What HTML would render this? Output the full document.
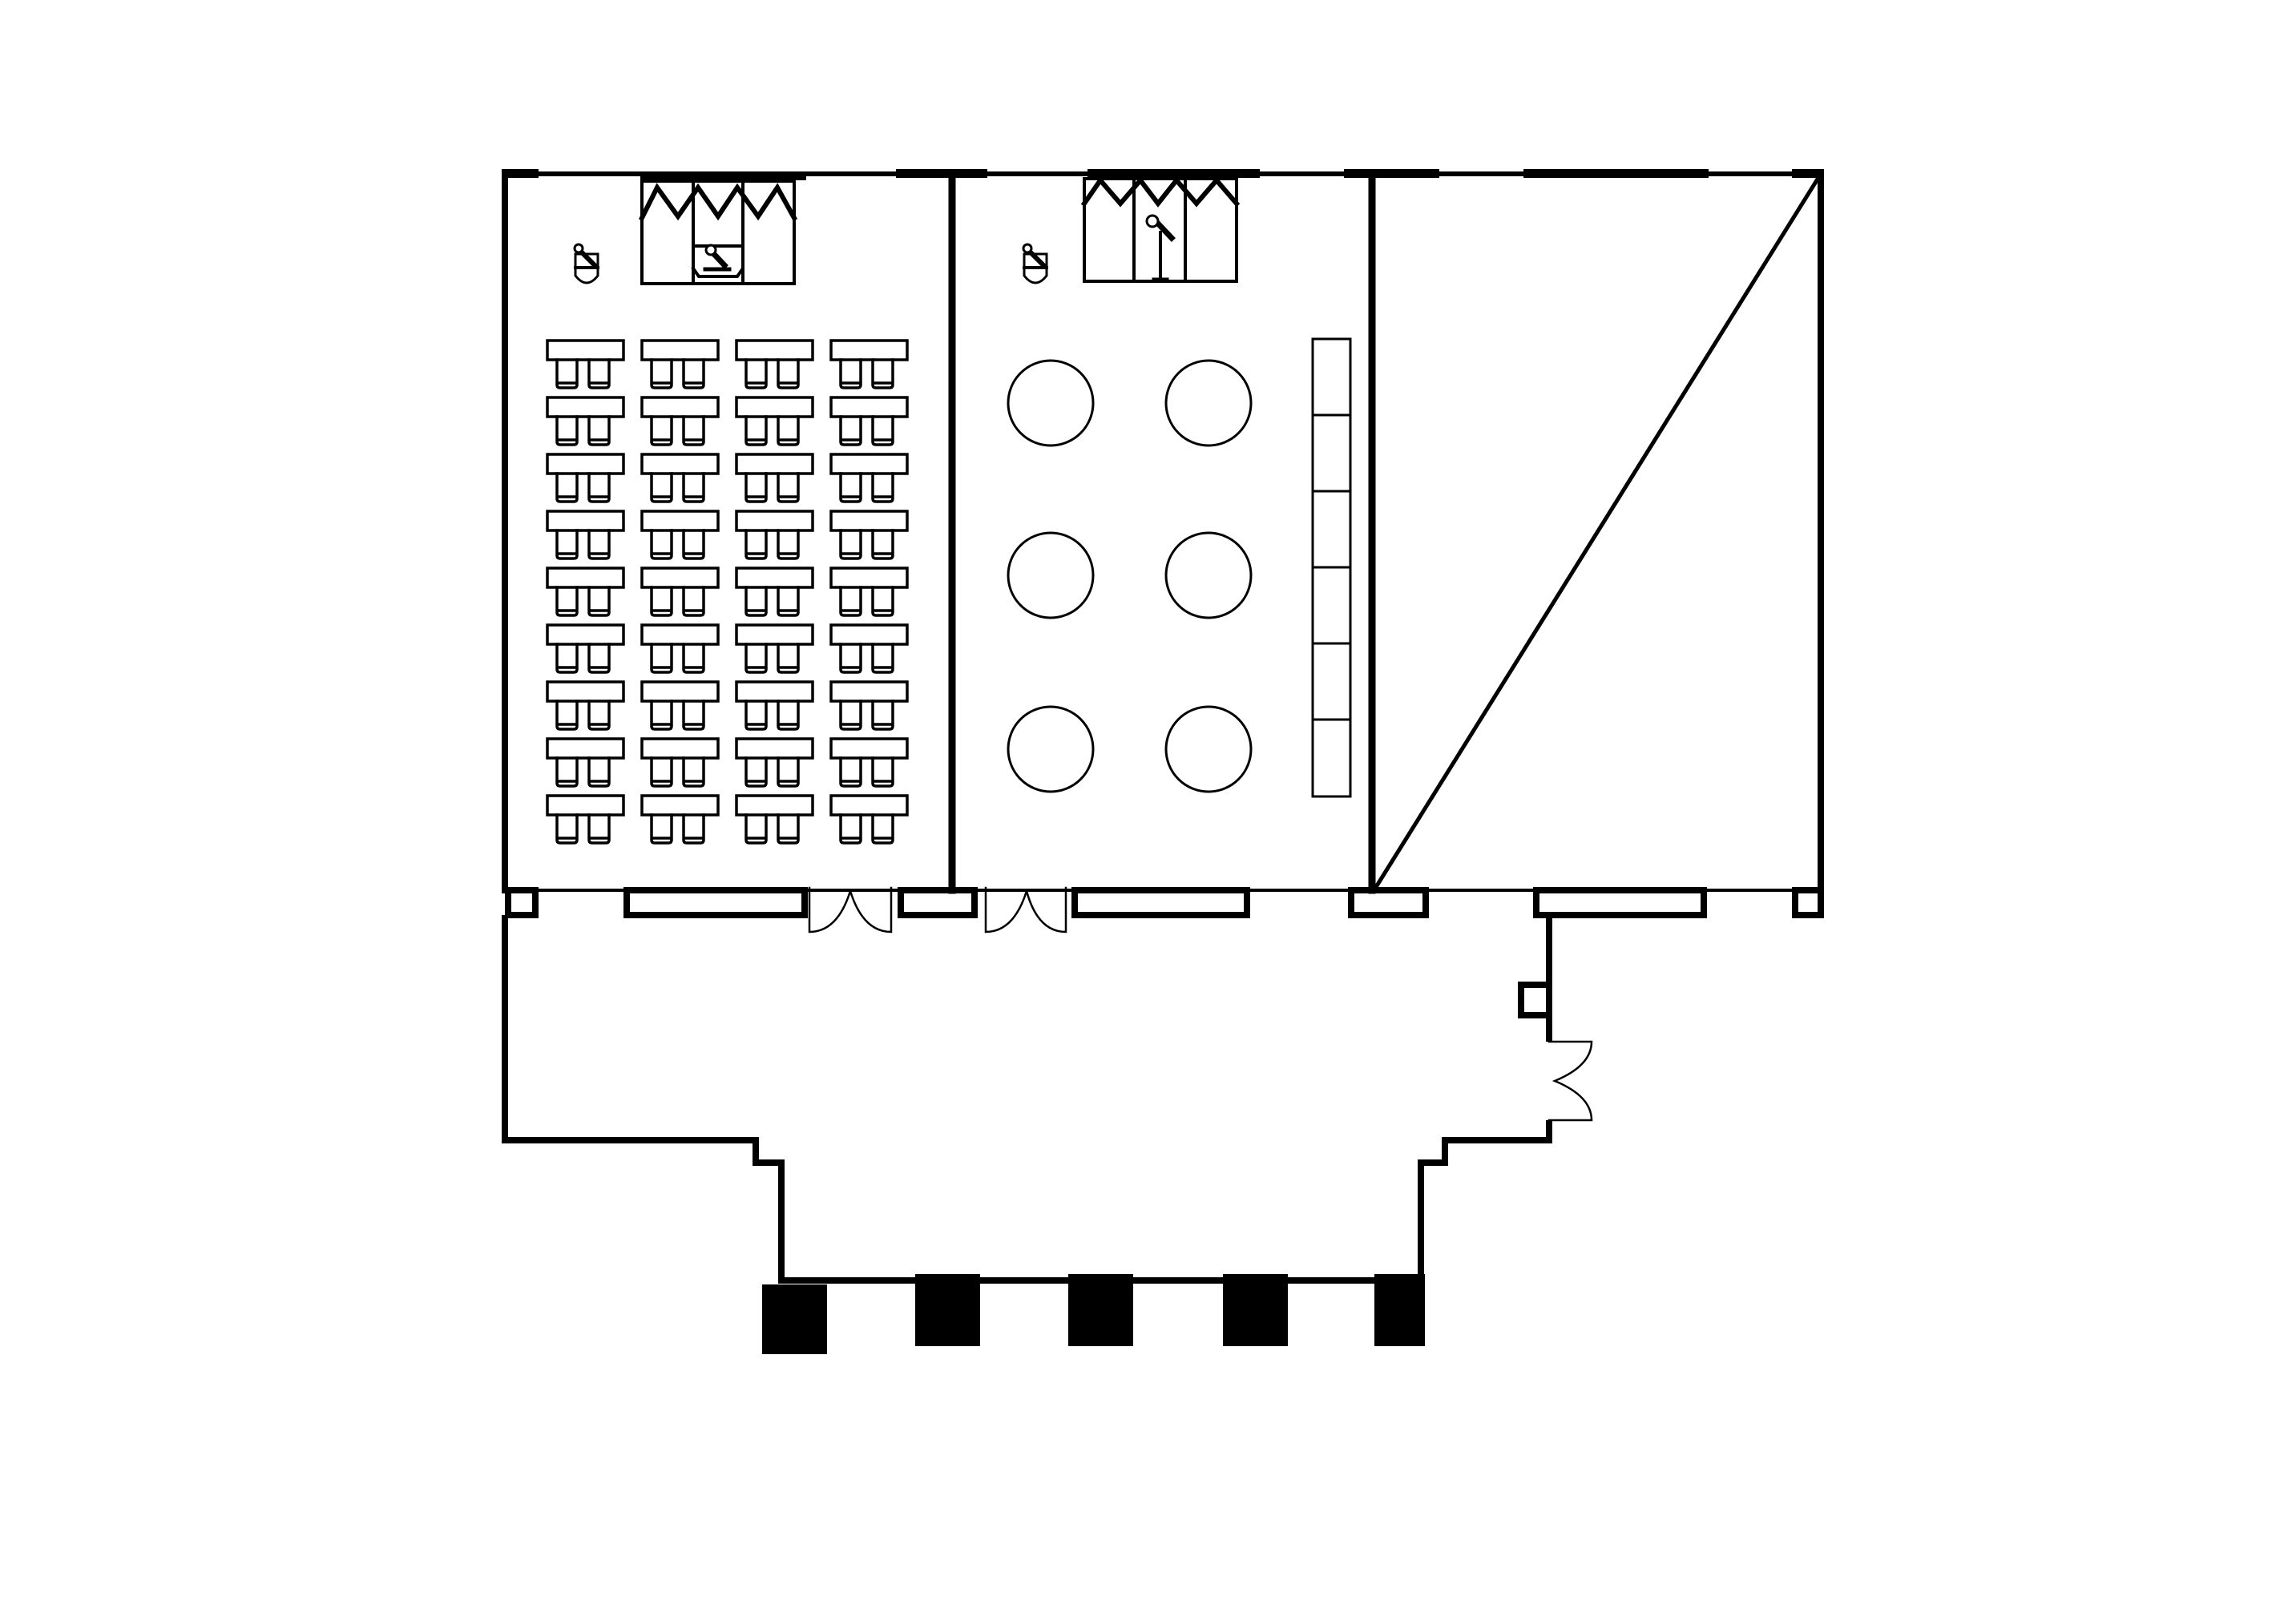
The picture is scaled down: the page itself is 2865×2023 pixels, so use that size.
<!DOCTYPE html>
<html><head><meta charset="utf-8"><style>html,body{margin:0;padding:0;background:#fff}svg{display:block}</style></head>
<body>
<svg width="2865" height="2023" viewBox="0 0 2865 2023" xmlns="http://www.w3.org/2000/svg">
<rect width="2865" height="2023" fill="#fff"/>
<g stroke="#000" fill="none" stroke-linecap="square">
<!-- top wall -->
<line x1="630" y1="217" x2="2272" y2="217" stroke-width="6"/>
<g fill="#000" stroke="none">
<rect x="626" y="211" width="46" height="11"/>
<rect x="799" y="216" width="207" height="9"/>
<rect x="1118" y="211" width="114" height="11"/>
<rect x="1357" y="211" width="215" height="11"/>
<rect x="1677" y="211" width="119" height="11"/>
<rect x="1901" y="211" width="231" height="11"/>
<rect x="2236" y="211" width="40" height="11"/>
</g>
<!-- verticals -->
<line x1="630" y1="217" x2="630" y2="1111" stroke-width="8"/>
<line x1="2272" y1="217" x2="2272" y2="1111" stroke-width="8"/>
<line x1="1188" y1="217" x2="1188" y2="1111" stroke-width="9"/>
<line x1="1712" y1="217" x2="1712" y2="1111" stroke-width="9"/>
<!-- diagonal -->
<line x1="2272" y1="217" x2="1717" y2="1107" stroke-width="5"/>
<!-- room bottom line -->
<line x1="630" y1="1111" x2="2272" y2="1111" stroke-width="4"/>
<!-- window boxes -->
<g stroke-width="8">
<rect x="634" y="1111" width="34" height="31"/>
<rect x="782" y="1111" width="222" height="31"/>
<rect x="1124" y="1111" width="92" height="31"/>
<rect x="1341" y="1111" width="215" height="31"/>
<rect x="1686" y="1111" width="93" height="31"/>
<rect x="1917" y="1111" width="209" height="31"/>
<rect x="2240" y="1111" width="32" height="31"/>
</g>
<!-- doors -->
<g stroke-width="2.5">
<path d="M1010 1108 V1163 Q1045 1163 1061 1112 M1112 1108 V1163 Q1077 1163 1061 1112"/>
<path d="M1230 1108 V1163 Q1265 1163 1281 1112 M1330 1108 V1163 Q1295 1163 1281 1112"/>
<path d="M1933 1300 H1986 Q1986 1330 1940 1349 Q1986 1368 1986 1398 H1933" />
</g>
<!-- lobby walls -->
<g stroke-width="8" stroke-linecap="butt">
<path d="M630 1142 V1423 H943 V1451 H975 V1598 H1773 V1451 H1803 V1423 H1933 V1398"/>
<path d="M1933 1300 V1269 M1933 1227 V1142"/>
<rect x="1898" y="1229" width="35" height="38"/>
</g>
<g fill="#000" stroke="none">
<rect x="951" y="1603" width="81" height="87"/>
<rect x="1142" y="1590" width="81" height="90"/>
<rect x="1333" y="1590" width="81" height="90"/>
<rect x="1526" y="1590" width="81" height="90"/>
<rect x="1715" y="1590" width="63" height="90"/>
</g>
<!-- stage 1 -->
<g stroke-width="4">
<rect x="801" y="226" width="190" height="128"/>
<line x1="865" y1="226" x2="865" y2="354"/>
<line x1="927" y1="226" x2="927" y2="354"/>
<polyline points="801,272 820,234 846,270 871,234 896,270 920,234 946,270 970,234 991,272" stroke-width="6" stroke-linejoin="miter"/>
<path d="M865 307 H927 V335 L920 345 H872 L865 335"/>
<line x1="888" y1="314" x2="904" y2="331" stroke-width="7"/>
<circle cx="887" cy="312" r="6" fill="#fff" stroke-width="3"/>
<line x1="880" y1="336" x2="910" y2="336" stroke-width="5"/>
</g>
<!-- stage 2 -->
<g stroke-width="4">
<rect x="1353" y="223" width="190" height="128"/>
<line x1="1415" y1="223" x2="1415" y2="351"/>
<line x1="1479" y1="223" x2="1479" y2="351"/>
<polyline points="1353,254 1373,225 1398,254 1423,225 1445,254 1468,225 1493,254 1518,225 1543,254" stroke-width="6"/>
<line x1="1448" y1="290" x2="1448" y2="350"/>
<line x1="1440" y1="349" x2="1456" y2="349" stroke-width="5"/>
<line x1="1446" y1="280" x2="1462" y2="297" stroke-width="7"/>
<circle cx="1438" cy="276" r="7" fill="#fff" stroke-width="3"/>
</g>
<!-- mic icons -->
<g stroke-width="3">
<path d="M718 317 H746 V344 Q732 362 718 344 Z" fill="#fff"/>
<line x1="718" y1="334" x2="746" y2="334" stroke-width="4"/>
<line x1="723" y1="312" x2="742" y2="331" stroke-width="6"/>
<circle cx="722" cy="310" r="5" fill="#fff"/>
<path d="M1278 317 H1306 V344 Q1292 362 1278 344 Z" fill="#fff"/>
<line x1="1278" y1="334" x2="1306" y2="334" stroke-width="4"/>
<line x1="1283" y1="312" x2="1302" y2="331" stroke-width="6"/>
<circle cx="1282" cy="310" r="5" fill="#fff"/>
</g>
<!-- round tables -->
<g stroke-width="3">
<circle cx="1311" cy="503" r="53"/><circle cx="1508" cy="503" r="53"/>
<circle cx="1311" cy="718" r="53"/><circle cx="1508" cy="718" r="53"/>
<circle cx="1311" cy="935" r="53"/><circle cx="1508" cy="935" r="53"/>
</g>
<!-- buffet -->
<g stroke-width="3">
<rect x="1638" y="423" width="47" height="571"/>
<line x1="1638" y1="518" x2="1685" y2="518"/>
<line x1="1638" y1="613" x2="1685" y2="613"/>
<line x1="1638" y1="708" x2="1685" y2="708"/>
<line x1="1638" y1="803" x2="1685" y2="803"/>
<line x1="1638" y1="898" x2="1685" y2="898"/>
</g>
<!-- desks -->
<defs>
<g id="d">
<rect x="0" y="0" width="95" height="24" stroke-width="3.5"/>
<path d="M12 24 V55 Q12 59 16 59 H33 Q37 59 37 55 V24 M12 53 H37" stroke-width="3.5"/>
<path d="M52 24 V55 Q52 59 56 59 H73 Q77 59 77 55 V24 M52 53 H77" stroke-width="3.5"/>
</g>
</defs>
<use href="#d" x="683" y="425"/><use href="#d" x="801" y="425"/><use href="#d" x="919" y="425"/><use href="#d" x="1037" y="425"/>
<use href="#d" x="683" y="496"/><use href="#d" x="801" y="496"/><use href="#d" x="919" y="496"/><use href="#d" x="1037" y="496"/>
<use href="#d" x="683" y="567"/><use href="#d" x="801" y="567"/><use href="#d" x="919" y="567"/><use href="#d" x="1037" y="567"/>
<use href="#d" x="683" y="638"/><use href="#d" x="801" y="638"/><use href="#d" x="919" y="638"/><use href="#d" x="1037" y="638"/>
<use href="#d" x="683" y="709"/><use href="#d" x="801" y="709"/><use href="#d" x="919" y="709"/><use href="#d" x="1037" y="709"/>
<use href="#d" x="683" y="780"/><use href="#d" x="801" y="780"/><use href="#d" x="919" y="780"/><use href="#d" x="1037" y="780"/>
<use href="#d" x="683" y="851"/><use href="#d" x="801" y="851"/><use href="#d" x="919" y="851"/><use href="#d" x="1037" y="851"/>
<use href="#d" x="683" y="922"/><use href="#d" x="801" y="922"/><use href="#d" x="919" y="922"/><use href="#d" x="1037" y="922"/>
<use href="#d" x="683" y="993"/><use href="#d" x="801" y="993"/><use href="#d" x="919" y="993"/><use href="#d" x="1037" y="993"/>
</g>
</svg>
</body></html>
